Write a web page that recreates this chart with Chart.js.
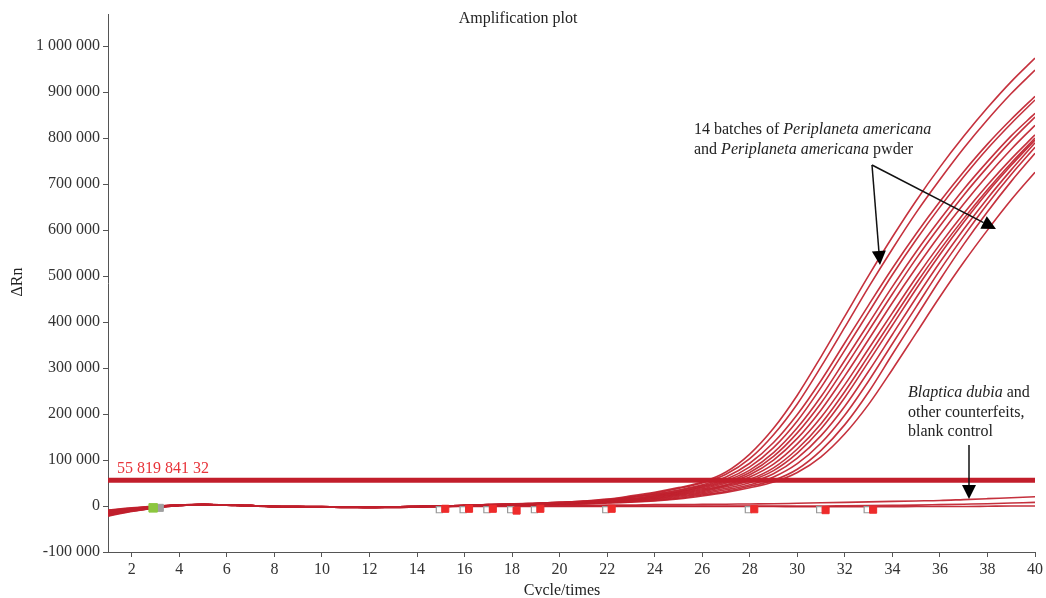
<!DOCTYPE html>
<html lang="en">
<head>
  <title>Amplification plot</title>
  <script src="https://cdn.jsdelivr.net/npm/chart.js"></script>
  <style>
    body { margin: 0; background: #fff; }
  </style>
</head>
<body>
<canvas id="ampChart" width="1046" height="598"></canvas>
<script>
  // values in thousands of ΔRn, one entry per cycle 1..40
  const cycles = [1,2,3,4,5,6,7,8,9,10,11,12,13,14,15,16,17,18,19,20,21,22,23,24,25,26,27,28,29,30,31,32,33,34,35,36,37,38,39,40];

  const batch1  = [-22,-12,-4,1,3,2,1,-1,-2,-2,-3,-3,-3,-2,-1,1,3, 5,6,8,11,15,22,30,40,52,74,113,169,241,325,413,501,585,664,737,804,866,923,974];
  const batch2  = [-15,-8,-2,2,3,2,1,-1,-1,-2,-2,-3,-2,-1,0,1,3, 4,6,8,10,14,20,28,38,50,69,103,155,222,303,389,476,559,638,710,778,840,897,948];
  const batch3  = [-9,-4,0,2,3,2,0,-1,-1,-1,-2,-2,-2,-1,0,1,3, 4,6,8,10,13,19,26,35,46,63,93,138,199,273,355,437,517,592,662,727,787,841,891];
  const batch4  = [-19,-10,-3,1,3,2,1,-1,-2,-2,-3,-3,-2,-2,-1,1,3, 4,5,7,9,12,18,25,33,44,58,85,127,185,258,339,421,503,579,650,716,777,832,883];
  const batch5  = [-12,-6,-1,2,3,2,1,-1,-1,-2,-2,-2,-2,-1,0,1,2, 4,5,7,9,12,16,23,31,42,55,78,116,170,238,317,397,477,553,623,689,749,805,854];
  const batch6  = [-17,-9,-3,1,3,2,1,-1,-2,-2,-2,-3,-2,-1,0,1,2, 4,5,6,8,11,15,22,30,40,52,73,108,159,224,301,381,461,538,609,676,737,794,846];
  const batch7  = [-10,-5,-1,2,3,2,0,-1,-1,-1,-2,-2,-2,-1,0,1,2, 3.5,4.5,6,8,10.5,14.5,20.5,28,37.5,49.5,68,100,147,209,283,362,442,518,590,657,719,776,828];
  const batch8  = [-20,-11,-4,1,3,2,1,-1,-2,-2,-3,-3,-3,-2,-1,0,2, 3.3,4.3,5.6,7.6,9.9,13.5,19.1,26.4,35.3,46.3,63,91,135,193,264,342,420,497,569,636,698,755,807];
  const batch9  = [-14,-7,-2,2,3,2,1,-1,-1,-2,-2,-2,-2,-1,0,1,2, 3.1,4.1,5.2,7.2,9.3,12.5,17.7,24.8,33.1,44.3,58,83,124,179,249,327,406,484,557,625,688,746,800];
  const batch10 = [-11,-6,-1,2,3,2,0,-1,-1,-1,-2,-2,-2,-1,0,1,2, 2.9,3.9,4.9,6.8,8.8,11.7,16.3,23.2,31.2,41.9,54.7,77,115,168,236,314,393,472,547,617,682,741,796];
  const batch11 = [-16,-8,-2,1,3,2,1,-1,-1,-2,-2,-3,-2,-1,0,1,2, 2.6,3.6,4.6,6.2,8.2,10.8,15,21.2,28.8,38.6,50.8,70,104,153,217,293,373,453,530,602,669,731,790];
  const batch12 = [-21,-11,-4,1,3,2,1,-1,-2,-2,-3,-3,-3,-2,-1,0,2, 2.3,3.3,4.3,5.6,7.6,9.9,13.5,19.1,26.4,35.3,46.3,63,92,137,198,272,353,433,513,587,657,721,780];
  const batch13 = [-13,-7,-2,2,3,2,1,-1,-1,-2,-2,-2,-2,-1,0,1,2, 2,3,4,5,7,9,12,17,24,32,43,56,80,121,177,248,330,411,492,569,640,706,767];
  const batch14 = [-18,-9,-3,1,3,2,1,-1,-2,-2,-2,-3,-2,-1,0,1,2, 1.9,2.7,3.7,4.7,6.4,8.4,11.1,15.5,21.9,29.6,39.7,52.1,73,107,157,221,297,376,455,530,600,666,726];

  // Blaptica dubia, other counterfeits, blank control
  const fake1 = [-14,-7,-2,2,3,2,1,-1,-1,-2,-2,-2,-2,-1,0,0,1, 1,1,1.5,1.5,2,2,3,3,3.5,4,4.5,5,6,7,8,9,10,11,12,14,16,18,20];
  const fake2 = [-10,-5,-1,2,3,2,0,-1,-1,-1,-2,-2,-2,-1,-1,0,0, 0,0,0,0,0,0,0,0,0,0,0,0,0,0,0.5,1,1.5,2,3,4,5,6.5,8];
  const blank = [-16,-8,-2,1,3,2,1,-1,-2,-2,-2,-3,-2,-2,-1,-1,-1, -1,-1,-1,-1,-1,-1,-1,-1,-1,-1,-1,-1,-1.5,-1.5,-1.5,-1.5,-1.5,-1,-1,-1,-0.5,0,0];

  const threshold = 55.819;
  const thresholdLabel = '55 819 841 32';

  // baseline start/end markers
  const markerCycles = [15, 16, 17, 18, 19, 22, 28, 31, 33];
  const markerRedY   = [-6, -6, -6, -10, -6, -6, -7, -9, -8];
  const markerGrayY  = [-8, -8, -8, -8, -8, -8, -8, -8, -8];
  const startCycle = 3;
  const startY = -4;

  const xTicks = [2,4,6,8,10,12,14,16,18,20,22,24,26,28,30,32,34,36,38,40];
  const yTicks = [-100000,0,100000,200000,300000,400000,500000,600000,700000,800000,900000,1000000];

  const curveColor = 'rgba(192,32,44,0.92)';
  const serif = '"Liberation Serif", "DejaVu Serif", serif';

  function toPoints(arr) {
    return cycles.map((c, i) => ({ x: c, y: arr[i] * 1000 }));
  }

  const curves = [batch1, batch2, batch3, batch4, batch5, batch6, batch7, batch8, batch9, batch10,
                  batch11, batch12, batch13, batch14, fake1, fake2, blank];

  const datasets = [];

  datasets.push({
    label: 'start',
    data: [{ x: startCycle - 0.1, y: startY * 1000 }],
    showLine: false, pointStyle: 'rect', pointRadius: 6,
    backgroundColor: '#8cc63f', borderColor: '#8cc63f', order: 0
  });
  datasets.push({
    label: 'start2',
    data: [{ x: startCycle + 0.18, y: startY * 1000 }],
    showLine: false, pointStyle: 'rect', pointRadius: 5,
    backgroundColor: '#a0a0a0', borderColor: '#a0a0a0', order: 1
  });
  datasets.push({
    label: 'red markers',
    data: markerCycles.map((c, i) => ({ x: c + 0.19, y: markerRedY[i] * 1000 })),
    showLine: false, pointStyle: 'rect', pointRadius: 5,
    backgroundColor: '#ee2b2b', borderColor: '#ee2b2b', order: 0
  });
  datasets.push({
    label: 'gray markers',
    data: markerCycles.map((c, i) => ({ x: c - 0.06, y: markerGrayY[i] * 1000 })),
    showLine: false, pointStyle: 'rect', pointRadius: 4.3,
    backgroundColor: '#ffffff', borderColor: '#999999', borderWidth: 1.2, order: 1
  });
  datasets.push({
    label: 'threshold',
    data: [{ x: 1, y: threshold * 1000 }, { x: 40, y: threshold * 1000 }],
    borderColor: '#c21e2b', borderWidth: 5, pointRadius: 0, order: 2
  });
  curves.forEach((arr, i) => {
    datasets.push({
      label: 'curve ' + (i + 1),
      data: toPoints(arr),
      borderColor: curveColor,
      borderWidth: 1.6,
      pointRadius: 0,
      tension: 0.4,
      cubicInterpolationMode: 'monotone',
      order: 3
    });
  });

  function richText(c, parts, x, y) {
    let cx = x;
    parts.forEach(p => {
      c.font = (p[1] ? 'italic ' : '') + '16px ' + serif;
      c.fillText(p[0], cx, y);
      cx += c.measureText(p[0]).width;
    });
  }

  function arrow(c, x1, y1, x2, y2) {
    const a = Math.atan2(y2 - y1, x2 - x1);
    const len = 14, w = 7;
    const bx = x2 - len * Math.cos(a), by = y2 - len * Math.sin(a);
    c.beginPath();
    c.moveTo(x1, y1);
    c.lineTo(bx, by);
    c.stroke();
    c.beginPath();
    c.moveTo(x2, y2);
    c.lineTo(bx + w * Math.sin(a), by - w * Math.cos(a));
    c.lineTo(bx - w * Math.sin(a), by + w * Math.cos(a));
    c.closePath();
    c.fill();
  }

  const notes = {
    id: 'notes',
    afterDraw(chart) {
      const c = chart.ctx;
      const y = chart.scales.y;
      c.save();
      c.textBaseline = 'middle';
      c.fillStyle = '#222';
      c.textAlign = 'center';
      c.font = '16px ' + serif;
      c.fillText('Amplification plot', 518, 19);
      c.fillText('Cvcle/times', 562, 591);
      c.save();
      c.translate(18, 282);
      c.rotate(-Math.PI / 2);
      c.fillText('ΔRn', 0, 0);
      c.restore();

      c.textAlign = 'left';
      c.fillStyle = '#e8343a';
      c.fillText(thresholdLabel, 117, y.getPixelForValue(threshold * 1000) - 12);

      c.fillStyle = '#222';
      richText(c, [['14 batches of ', false], ['Periplaneta americana', true]], 694, 130);
      richText(c, [['and ', false], ['Periplaneta americana', true], [' pwder', false]], 694, 150);
      richText(c, [['Blaptica dubia', true], [' and', false]], 908, 393);
      richText(c, [['other counterfeits,', false]], 908, 413);
      richText(c, [['blank control', false]], 908, 432);

      c.strokeStyle = '#111';
      c.fillStyle = '#000';
      c.lineWidth = 1.5;
      arrow(c, 872, 165, 880, 265);
      arrow(c, 872, 165, 996, 229);
      arrow(c, 969, 445, 969, 499);
      c.restore();
    }
  };

  new Chart(document.getElementById('ampChart'), {
    type: 'line',
    data: { datasets },
    options: {
      responsive: false,
      animation: false,
      layout: { padding: { top: 14, right: 8, left: 0, bottom: 0 } },
      plugins: { legend: { display: false }, tooltip: { enabled: false } },
      scales: {
        x: {
          type: 'linear', min: 1, max: 40,
          afterBuildTicks: s => { s.ticks = xTicks.map(v => ({ value: v })); },
          afterFit: s => { s.height = 46; },
          grid: { drawOnChartArea: false, color: '#555', tickLength: 5 },
          border: { color: '#555', width: 1 },
          ticks: { color: '#333', font: { family: serif, size: 16 }, padding: 3, maxRotation: 0 }
        },
        y: {
          min: -100000, max: 1070000,
          afterBuildTicks: s => { s.ticks = yTicks.map(v => ({ value: v })); },
          afterFit: s => { s.width = 108; },
          grid: { drawOnChartArea: false, color: '#555', tickLength: 5 },
          border: { color: '#555', width: 1 },
          ticks: {
            color: '#333', font: { family: serif, size: 16 }, padding: 3,
            callback: v => v.toLocaleString('en-US').replace(/,/g, ' ')
          }
        }
      }
    },
    plugins: [notes]
  });
</script>
</body>
</html>
